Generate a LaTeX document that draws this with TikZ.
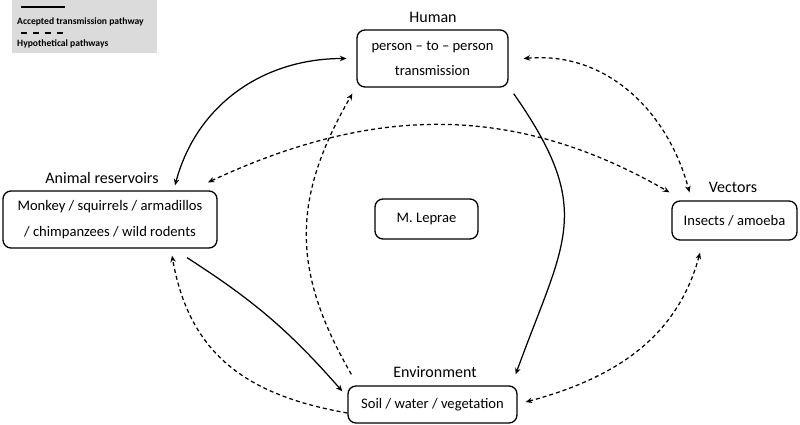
\documentclass[tikz,border=0pt]{standalone}
\usepackage{fontspec}
\setmainfont{Carlito}
\usepackage{tikz}
\usetikzlibrary{arrows.meta}

\begin{document}
\begin{tikzpicture}[x=1pt,y=-1pt,
  caixa/.style={draw, rounded corners=8pt, line width=1.3pt, inner sep=0pt, align=center, font=\fontsize{14.6}{25.5}\selectfont},
  titulo/.style={font=\fontsize{16}{18}\selectfont},
  legtexto/.style={anchor=west, inner sep=0pt, font=\fontsize{9.6}{10}\selectfont\bfseries},
  aceita/.style={line width=1.25pt, >={Stealth[length=6.5pt,width=5.5pt]}},
  hipotese/.style={line width=1.25pt, dash pattern=on 4pt off 3pt, >={Stealth[length=6.5pt,width=5.5pt]}}]
\useasboundingbox (0,0) rectangle (800,425);
% Legenda
\fill[black!14] (12,0) rectangle (157,53);
\draw[line width=1.6pt] (21,7) -- (65,7);
\node[legtexto] (legaceita) at (17,22) {Accepted transmission pathway};
\draw[line width=1.6pt, dash pattern=on 6pt off 6pt] (21,33) -- (65,33);
\node[legtexto] (leghipotese) at (17,44) {Hypothetical pathways};
% Caixas
\node[caixa, minimum width=151pt, minimum height=57pt] (humano) at (432.5,58.5) {person -- to -- person\\transmission};
\node[caixa, minimum width=214pt, minimum height=57pt] (animal) at (110,219.5) {Monkey / squirrels / armadillos\\/ chimpanzees / wild rodents};
\node[caixa, minimum width=169pt, minimum height=37pt] (ambiente) at (432.5,404.5) {Soil / water / vegetation};
\node[caixa, minimum width=125pt, minimum height=39pt] (vetores) at (734.5,220.5) {Insects / amoeba};
\node[caixa, minimum width=103pt, minimum height=40pt] (leprae) at (426.5,219) {M. Leprae};
% Titulos
\node[titulo] (thumano) at (433,17) {Human};
\node[titulo] (tanimal) at (102,178) {Animal reservoirs};
\node[titulo] (tambiente) at (435,372) {Environment};
\node[titulo] (tvetores) at (733,187) {Vectors};
% Vias aceitas
\draw[aceita, <->] ([xshift=-10pt]humano.west) to[out=180, in=75] ([xshift=65pt, yshift=5pt]animal.north);
\draw[aceita, ->] ([xshift=5pt, yshift=-6pt]humano.south east) to[out=-55, in=70, looseness=1.3] ([xshift=-2pt, yshift=11pt]ambiente.north east);
\draw[aceita, ->] ([xshift=77pt, yshift=-9pt]animal.south) to[bend left=8] ([xshift=-5pt, yshift=-6pt]ambiente.north west);
% Vias hipoteticas
\draw[hipotese, <->] ([xshift=15pt]humano.east) to[out=5, in=105] ([xshift=-45pt, yshift=8pt]vetores.north);
\draw[hipotese, <->] ([xshift=98pt, yshift=8pt]animal.north) to[out=25, in=150] ([xshift=-65pt, yshift=8pt]vetores.north);
\draw[hipotese, ->] ([xshift=4pt, yshift=11pt]ambiente.north west) to[out=120, in=-120, looseness=1.1] ([xshift=-4pt, yshift=-6pt]humano.south west);
\draw[hipotese, ->] ([yshift=-8.5pt]ambiente.west) to[out=170, in=-80, looseness=1.1] ([xshift=62pt, yshift=-7pt]animal.south);
\draw[hipotese, <->] ([xshift=-34.5pt, yshift=-12pt]vetores.south) to[out=-105, in=15] ([xshift=8pt, yshift=2.5pt]ambiente.east);
\end{tikzpicture}
\end{document}
